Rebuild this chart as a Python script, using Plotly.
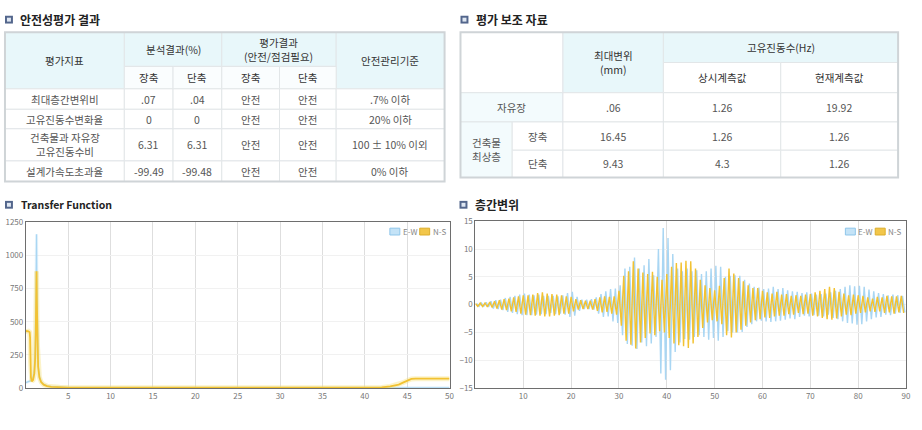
import numpy as np
import plotly.graph_objects as go

# ---------------- data ----------------
# table 1 : 안전성평가 결과
safety_items = ["최대층간변위비", "고유진동수변화율", "건축물과 자유장<br>고유진동수비", "설계가속도초과율"]
ratio_long = [".07", "0", "6.31", "-99.49"]
ratio_short = [".04", "0", "6.31", "-99.48"]
eval_long = ["안전", "안전", "안전", "안전"]
eval_short = ["안전", "안전", "안전", "안전"]
criteria = [".7% 이하", "20% 이하", "100 ± 10% 이외", "0% 이하"]

# table 2 : 평가 보조 자료
aux_max_disp = [".06", "16.45", "9.43"]
aux_freq_normal = ["1.26", "1.26", "4.3"]
aux_freq_current = ["19.92", "1.26", "1.26"]

# transfer function
tf_freq = [0, 0.1, 0.3, 0.45, 0.5, 0.55, 0.6, 0.7, 0.85, 1.0,
           1.1, 1.17, 1.22, 1.26, 1.3, 1.36, 1.45, 1.6, 1.8, 2.1,
           2.5, 3.0, 3.5, 4.0, 5.0, 7.0, 10, 15, 20, 25,
           30, 35, 40, 42, 43, 44, 44.5, 45, 45.5, 46,
           47, 48, 49, 50]
tf_ew = [40, 42, 45, 48, 50, 52, 55, 62, 80, 140,
         300, 600, 950, 1160, 800, 380, 170, 85, 48, 27,
         15, 10, 7, 5, 3, 2, 2, 1, 1, 1,
         1, 1, 1, 1, 1, 1, 1, 1, 1, 1,
         1, 1, 1, 1]
tf_ns = [425, 430, 428, 420, 380, 200, 80, 50, 60, 110,
         220, 420, 700, 880, 640, 330, 160, 80, 45, 25,
         14, 9, 7, 5, 3, 2, 2, 1, 1, 1,
         1, 1, 2, 4, 12, 25, 40, 55, 68, 70,
         70, 70, 70, 70]

# 층간변위 (sampled every 0.5 s)
disp_ns = [
    0.2, -0.3, 0.3, -0.35, 0.3, -0.4, 0.45, -0.5, 0.6, -0.7, 0.8, -0.9, 1.0, -1.0, 1.1, -1.2, 1.3, -1.3, 1.5, -1.6,
    1.7, -1.8, 1.7, -1.9, 1.8, -2.0, 2.1, -2.0, 2.2, -2.1, 2.0, -2.1, 1.9, -2.0, 1.8, -1.9, 1.7, -1.6, 1.5, -1.6,
    1.4, -1.2, 1.0, -0.9, 0.8, -0.8, 0.7, -0.8, 0.7, -0.9, 1.0, -1.1, 1.3, -1.4, 1.5, -1.3, 1.4, -1.6, 1.5, -1.8,
    2.5, -3.8, 5.2, -6.5, 6.0, -7.2, 7.8, -7.9, 6.5, -6.8, 5.8, -6.0, 5.5, -5.2, 5.9, -5.5, 5.0, -4.8, 4.5, -5.0,
    5.5, -6.0, 6.8, -7.0, 7.5, -7.3, 7.6, -7.5, 7.9, -7.8, 7.8, -7.0, 6.5, -5.8, 4.5, -4.2, 3.5, -3.2, 3.0, -2.8,
    2.6, -3.0, 3.4, -3.5, 4.8, -5.5, 6.5, -5.9, 5.6, -5.0, 4.8, -4.5, 4.2, -3.8, 3.5, -3.2, 3.0, -2.8, 3.0, -2.6,
    2.5, -2.3, 2.2, -2.4, 2.0, -2.1, 2.3, -2.0, 1.8, -2.0, 1.9, -1.7, 1.6, -1.8, 1.7, -1.5, 1.6, -1.7, 1.8, -1.6,
    1.9, -2.0, 2.2, -2.1, 2.5, -2.4, 2.8, -2.6, 3.2, -2.7, 3.0, -2.5, 2.3, -2.1, 2.0, -1.8, 1.7, -1.9, 1.8, -1.6,
    1.7, -1.5, 1.6, -1.4, 1.3, -1.2, 1.1, -1.3, 1.4, -1.2, 1.3, -1.5, 1.6, -1.4, 1.5, -1.6, 1.5, -1.4, 1.6, -1.5,
]
disp_ew = [
    0.2, -0.3, 0.3, -0.3, 0.4, -0.4, 0.6, -0.7, 0.8, -0.8, 0.9, -1.0, 1.2, -1.3, 1.4, -1.5, 1.6, -1.7, 1.8, -1.9,
    2.0, -1.9, 1.8, -1.9, 1.7, -1.8, 1.8, -1.7, 1.6, -1.7, 1.6, -1.5, 1.6, -1.7, 1.5, -1.6, 1.7, -1.8, 2.1, -2.2,
    2.3, -2.0, 1.4, -1.1, 0.9, -0.8, 0.9, -0.8, 1.0, -0.9, 1.3, -1.6, 1.9, -2.2, 2.4, -2.1, 2.8, -3.0, 2.9, -3.3,
    3.5, -5.5, 6.5, -7.1, 6.8, -7.4, 8.5, -8.0, 6.5, -6.8, 7.1, -7.5, 8.2, -7.0, 5.3, -5.8, 10.0, -12.4, 13.8, -13.5,
    12.0, -11.8, 9.1, -8.5, 6.5, -6.8, 6.0, -6.2, 6.5, -6.3, 6.0, -5.8, 6.2, -5.5, 5.5, -5.8, 6.0, -6.3, 6.5, -6.0,
    7.0, -6.5, 6.8, -5.8, 5.0, -4.8, 5.2, -5.0, 5.3, -5.0, 5.2, -4.9, 4.5, -4.0, 3.8, -3.5, 3.2, -3.0, 3.1, -2.9,
    2.8, -3.0, 2.9, -3.1, 3.2, -3.0, 2.8, -2.9, 3.0, -2.7, 2.6, -2.5, 2.4, -2.6, 2.3, -2.2, 2.1, -2.0, 2.2, -2.1,
    2.0, -1.9, 1.8, -2.0, 1.9, -2.1, 2.0, -1.8, 2.2, -2.4, 2.5, -2.6, 2.8, -3.0, 3.2, -3.3, 3.5, -3.4, 3.3, -3.6,
    3.4, -3.5, 3.2, -3.0, 2.7, -2.6, 2.4, -2.3, 2.1, -2.2, 1.9, -1.8, 1.7, -1.9, 1.8, -1.6, 1.7, -1.5, 1.6, -1.4,
]
disp_dt = 0.5
disp_t_ns = np.arange(len(disp_ns)) * disp_dt
disp_t_ew = disp_dt / 2 + np.arange(len(disp_ew)) * disp_dt

tf_xticks = [5, 10, 15, 20, 25, 30, 35, 40, 45, 50]
tf_yticks = [0, 250, 500, 750, 1000, 1250]
disp_xticks = [10, 20, 30, 40, 50, 60, 70, 80, 90]
disp_yticks = [-15, -10, -5, 0, 5, 10, 15]

# ---------------- styling / layout helpers ----------------
W, H = 922, 430
FONT = "Noto Sans CJK KR"
C_EW = "#a9d6f3"
C_NS = "#f2c232"
HDR = "#e8f7fa"
SUB = "#fafdfe"
LEFTC = "#f3fbfd"
WHITE = "#ffffff"
INNER = "#e2e6e8"
OUTER = "#cfd4d7"


def fx(p):
    return p / W


def fy(p):
    return 1 - p / H


shapes = []
annotations = []


def rect(x0, y0, x1, y1, fill, lc=None, lw=0):
    shapes.append(dict(type="rect", xref="paper", yref="paper",
                       x0=fx(x0), x1=fx(x1), y0=fy(y1), y1=fy(y0),
                       fillcolor=fill, line=dict(color=lc or fill, width=lw), layer="above"))


def text(x, y, s, size=11, color="#555", anchor="center", bold=False):
    if bold:
        s = "<b>" + s + "</b>"
    annotations.append(dict(xref="paper", yref="paper", x=fx(x), y=fy(y), text=s,
                            showarrow=False, xanchor=anchor, yanchor="middle",
                            font=dict(family=FONT, size=size, color=color)))


def title(ix, iy, tx, s, size=12):
    rect(ix, iy, ix + 8, iy + 8, "#53668c", "#53668c", 0)
    rect(ix + 2, iy + 2, ix + 6, iy + 6, "#dfe7f2", "#dfe7f2", 0)
    text(tx, iy + 4, s, size=size, color="#222", anchor="left", bold=True)


def table(cols, rows, cells):
    for (c0, c1, r0, r1, s, bg, col) in cells:
        x0, x1, y0, y1 = cols[c0], cols[c1], rows[r0], rows[r1]
        rect(x0, y0, x1, y1, bg, INNER, 1)
        if s:
            text((x0 + x1) / 2, (y0 + y1) / 2, s, size=10.5, color=col)
    shapes.append(dict(type="rect", xref="paper", yref="paper",
                       x0=fx(cols[0]), x1=fx(cols[-1]), y0=fy(rows[-1]), y1=fy(rows[0]),
                       line=dict(color=OUTER, width=2), layer="above"))


# ---------------- table 1 ----------------
t1_cols = [5, 125, 174, 223, 281, 338, 447]
t1_rows = [27, 62, 85, 106, 126, 159, 180]
hc = "#333"
bc = "#555"
t1_cells = [
    (0, 1, 0, 2, "평가지표", HDR, hc),
    (1, 3, 0, 1, "분석결과(%)", HDR, hc),
    (3, 5, 0, 1, "평가결과<br>(안전/점검필요)", HDR, hc),
    (5, 6, 0, 2, "안전관리기준", HDR, hc),
    (1, 2, 1, 2, "장축", SUB, hc),
    (2, 3, 1, 2, "단축", SUB, hc),
    (3, 4, 1, 2, "장축", SUB, hc),
    (4, 5, 1, 2, "단축", SUB, hc),
]
for i in range(len(safety_items)):
    r = 2 + i
    vals = [safety_items[i], ratio_long[i], ratio_short[i], eval_long[i], eval_short[i], criteria[i]]
    for c, v in enumerate(vals):
        t1_cells.append((c, c + 1, r, r + 1, v, WHITE, bc))
table(t1_cols, t1_rows, t1_cells)
title(5, 10, 18, "안전성평가 결과")

# ---------------- table 2 ----------------
t2_cols = [463, 515, 566, 667, 785, 903]
t2_rows = [27, 58, 89, 119, 148, 176]
t2_cells = [
    (0, 2, 0, 2, "", WHITE, hc),
    (2, 3, 0, 2, "최대변위<br>(mm)", HDR, hc),
    (3, 5, 0, 1, "고유진동수(Hz)", HDR, hc),
    (3, 4, 1, 2, "상시계측값", WHITE, hc),
    (4, 5, 1, 2, "현재계측값", WHITE, hc),
    (0, 2, 2, 3, "자유장", LEFTC, bc),
    (0, 1, 3, 5, "건축물<br>최상층", LEFTC, bc),
    (1, 2, 3, 4, "장축", WHITE, bc),
    (1, 2, 4, 5, "단축", WHITE, bc),
]
for i in range(len(aux_max_disp)):
    r = 2 + i
    for c, v in zip([2, 3, 4], [aux_max_disp[i], aux_freq_normal[i], aux_freq_current[i]]):
        t2_cells.append((c, c + 1, r, r + 1, v, WHITE, bc))
table(t2_cols, t2_rows, t2_cells)
title(463, 10, 477, "평가 보조 자료")

# ---------------- chart titles / legends ----------------
title(5, 200, 19, "Transfer Function", size=10.5)
title(462, 200, 476, "층간변위")


def legend(x):
    rect(x, 228, x + 10, 235, "#c4e3f7", "#8fc6ea", 1)
    text(x + 11, 231.5, "E-W", size=8, color="#888", anchor="left")
    rect(x + 30, 228, x + 40, 235, "#f2c64a", "#dcae2c", 1)
    text(x + 41, 231.5, "N-S", size=8, color="#888", anchor="left")


legend(392)
legend(850)

# ---------------- figure ----------------
fig = go.Figure()
# transfer function (with soft shadow)
fig.add_trace(go.Scatter(x=tf_freq, y=tf_ew, mode="lines", xaxis="x", yaxis="y",
                         line=dict(color="rgba(169,214,243,0.25)", width=3), hoverinfo="skip", showlegend=False))
fig.add_trace(go.Scatter(x=tf_freq, y=tf_ew, mode="lines", xaxis="x", yaxis="y", name="E-W",
                         line=dict(color=C_EW, width=1.2), showlegend=False))
fig.add_trace(go.Scatter(x=tf_freq, y=tf_ns, mode="lines", xaxis="x", yaxis="y",
                         line=dict(color="rgba(248,226,120,0.4)", width=5), hoverinfo="skip", showlegend=False))
fig.add_trace(go.Scatter(x=tf_freq, y=tf_ns, mode="lines", xaxis="x", yaxis="y", name="N-S",
                         line=dict(color=C_NS, width=1.8), showlegend=False))
# 층간변위
fig.add_trace(go.Scatter(x=disp_t_ew, y=disp_ew, mode="lines", xaxis="x2", yaxis="y2", name="E-W",
                         line=dict(color=C_EW, width=1.4), showlegend=False))
fig.add_trace(go.Scatter(x=disp_t_ns, y=disp_ns, mode="lines", xaxis="x2", yaxis="y2", name="N-S",
                         line=dict(color=C_NS, width=1.4), showlegend=False))

ax_common = dict(showline=True, mirror=True, linecolor="#6e6e6e", linewidth=1, ticks="",
                 zeroline=False, tickfont=dict(family=FONT, size=8, color="#777"))

fig.update_layout(
    width=W, height=H, autosize=False,
    margin=dict(l=0, r=0, t=0, b=0, pad=0),
    paper_bgcolor="white", plot_bgcolor="white",
    showlegend=False,
    font=dict(family=FONT),
    xaxis=dict(domain=[fx(26), fx(452)], range=[0, 50], tickvals=tf_xticks,
               showgrid=True, gridcolor="#dedede", anchor="y", **ax_common),
    yaxis=dict(domain=[fy(392), fy(222)], range=[0, 1250], tickvals=tf_yticks,
               showgrid=True, gridcolor="#f1f1f1", anchor="x", **ax_common),
    xaxis2=dict(domain=[fx(478), fx(911)], range=[0, 90], tickvals=disp_xticks,
                showgrid=True, gridcolor="#dedede", anchor="y2", **ax_common),
    yaxis2=dict(domain=[fy(392), fy(221)], range=[-15, 15], tickvals=disp_yticks,
                showgrid=True, gridcolor="#f1f1f1", anchor="x2", **ax_common),
    shapes=shapes,
    annotations=annotations,
)

fig.write_html("out.html", config={"displayModeBar": False})
